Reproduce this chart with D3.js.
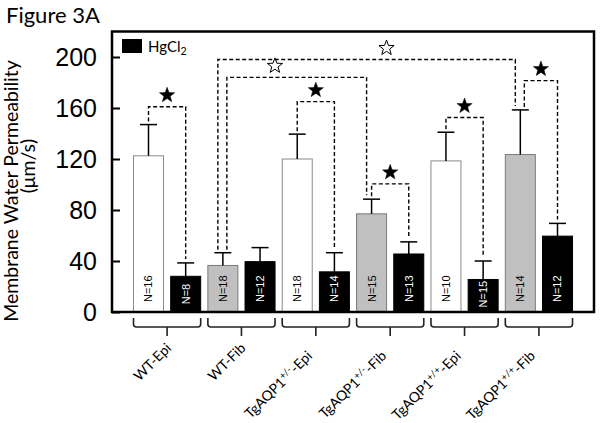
<!DOCTYPE html>
<html><head><meta charset="utf-8">
<script src="https://cdn.jsdelivr.net/npm/d3@7"></script>
<style>body{margin:0;background:#fff}</style>
</head><body><svg id="c" width="600" height="423"></svg>
<script>
// ---- data ----
const groupBase = ["WT","WT","TgAQP1","TgAQP1","TgAQP1","TgAQP1"];
const groupSup = ["","","+/-","+/-","+/+","+/+"];
const groupSuffix = ["-Epi","-Fib","-Epi","-Fib","-Epi","-Fib"];
const controlMean = [122.5, 36.5, 120, 77, 118.5, 123.5];
const controlSem = [24.5, 10, 19.5, 11.5, 22.5, 35];
const controlN = [16, 18, 18, 15, 10, 14];
const hgMean = [28, 39.5, 31.5, 45.5, 25.5, 59.5];
const hgSem = [10.5, 11, 15, 9.5, 14.5, 10];
const hgN = [8, 12, 14, 13, 15, 12];
const yTicks = [0, 40, 80, 120, 160, 200];
// significance comparisons (bar indices, bracket level in µm/s, star type)
const sigFrom = [0, 2, 2, 4, 6, 8, 10];
const sigTo = [1, 10, 6, 5, 7, 9, 11];
const sigLevel = [161, 198, 184, 165, 100.5, 152.5, 181.5];
const sigFilled = [true, false, false, true, true, true, true];

// ---- layout ----
const sigNudgeFrom = [0, -5, 4, 0, 0, 0, 4];
const sigNudgeTo = [0, -5, -5, 0, 0, 0, 0];
const starAt = [0.5, 0.567, 0.344, 0.5, 0.5, 0.5, 0.5];

const svg = d3.select("#c");
const L = 112, R = 594, T = 31.5, B = 312;

const bars = [];
groupBase.forEach((g, i) => {
  bars.push({key: "c" + i, mean: controlMean[i], sem: controlSem[i], n: controlN[i],
             type: (i % 2 === 0) ? "white" : "gray"});
  bars.push({key: "h" + i, mean: hgMean[i], sem: hgSem[i], n: hgN[i], type: "black"});
});

const x = d3.scaleBand().domain(bars.map(d => d.key)).range([L, R])
  .paddingInner(0.193).paddingOuter(0.578);
const y = d3.scaleLinear().domain([0, 220]).range([B, T]);
const cx = k => x(k) + x.bandwidth() / 2;

// title
svg.append("text").attr("x", 6).attr("y", 23).text("Figure 3A")
  .style("font-family", "Lato").style("font-size", "22px").attr("fill", "#000");

// y title
svg.append("text").attr("transform", "translate(18,191) rotate(-90)")
  .attr("text-anchor", "middle").text("Membrane Water Permeability")
  .style("font-family", "Lato").style("font-size", "19.5px");
svg.append("text").attr("transform", "translate(35,166) rotate(-90)")
  .attr("text-anchor", "middle").text("(μm/s)")
  .style("font-family", "Lato").style("font-size", "19.5px");

// bars
const fills = {white: "#ffffff", gray: "#c0c0c0", black: "#000000"};
const strokes = {white: "#8a8a8a", gray: "#7a7a7a", black: "#000000"};
svg.append("g").selectAll("rect").data(bars).join("rect")
  .attr("x", d => x(d.key)).attr("width", x.bandwidth())
  .attr("y", d => y(d.mean)).attr("height", d => y(0) - y(d.mean))
  .attr("fill", d => fills[d.type]).attr("stroke", d => strokes[d.type]).attr("stroke-width", 1);

// error bars
const eg = svg.append("g").attr("stroke", "#000").attr("stroke-width", 1.5);
bars.forEach(d => {
  const c = cx(d.key);
  eg.append("line").attr("x1", c).attr("x2", c).attr("y1", y(d.mean)).attr("y2", y(d.mean + d.sem));
  eg.append("line").attr("x1", c - 8.5).attr("x2", c + 8.5).attr("y1", y(d.mean + d.sem)).attr("y2", y(d.mean + d.sem));
});

// N labels (start near bottom, pushed down if bar is shorter than label)
svg.append("g").selectAll("text").data(bars).join("text")
  .attr("transform", d => {
    const s = Math.max(302, Math.min(309, y(d.mean) + 28));
    return `translate(${cx(d.key)},${s}) rotate(-90)`;
  })
  .attr("text-anchor", "start").attr("dy", "0.36em")
  .attr("fill", d => d.type === "black" ? "#fff" : "#000")
  .style("font-family", "Liberation Sans").style("font-size", "11px")
  .text(d => "N=" + d.n);

// significance brackets
function starPath(r1, r2) {
  const pts = [];
  for (let i = 0; i < 10; i++) {
    const a = -Math.PI / 2 + i * Math.PI / 5;
    const r = i % 2 === 0 ? r1 : r2;
    pts.push([r * Math.cos(a), r * Math.sin(a)]);
  }
  return "M" + pts.map(p => p.join(",")).join("L") + "Z";
}
const sg = svg.append("g");
sigFrom.forEach((a, i) => {
  const b = sigTo[i];
  const ba = bars[a], bb = bars[b];
  const x1 = cx(ba.key) + sigNudgeFrom[i], x2 = cx(bb.key) + sigNudgeTo[i];
  const yl = y(sigLevel[i]);
  const y1 = y(ba.mean + ba.sem) - 3, y2 = y(bb.mean + bb.sem) - 4;
  sg.append("path").attr("d", `M${x1},${y1}V${yl}H${x2}V${y2}`)
    .attr("fill", "none").attr("stroke", "#000").attr("stroke-width", 1.4)
    .attr("stroke-dasharray", "4,2.5");
  const sx = x1 + (x2 - x1) * starAt[i];
  sg.append("path").attr("d", starPath(8, 3.3))
    .attr("transform", `translate(${sx},${yl - 11.5})`)
    .attr("fill", sigFilled[i] ? "#000" : "#fff").attr("stroke", "#000").attr("stroke-width", sigFilled[i] ? 0.5 : 1);
});

// y axis (inward ticks)
const ya = svg.append("g").attr("transform", `translate(${L},0)`)
  .call(d3.axisLeft(y).tickValues(yTicks).tickSize(-8).tickPadding(15));
ya.select(".domain").remove();
ya.selectAll(".tick line").attr("stroke", "#000").attr("stroke-width", 2);
ya.selectAll(".tick text").style("font-family", "Liberation Sans").style("font-size", "25px").attr("fill", "#000");

// frame
svg.append("rect").attr("x", L).attr("y", T).attr("width", R - L).attr("height", B - T)
  .attr("fill", "none").attr("stroke", "#000").attr("stroke-width", 2.5);

// legend
svg.append("rect").attr("x", 122).attr("y", 39).attr("width", 20).attr("height", 14).attr("fill", "#000");
const lt = svg.append("text").attr("x", 148).attr("y", 52)
  .style("font-family", "Lato").style("font-size", "15px");
lt.append("tspan").text("HgCl");
lt.append("tspan").text("2").attr("dy", 3).style("font-size", "10.5px");

// group brackets + labels
const labelShift = [0, 0, 11, 11, 11, 11];
const gg = svg.append("g");
groupBase.forEach((g, i) => {
  const xa = x(bars[2 * i].key), xb = x(bars[2 * i + 1].key) + x.bandwidth();
  const m = (xa + xb) / 2;
  const yT = 318, yH = 327, yB = 336, r = 3;
  gg.append("path")
    .attr("d", `M${xa},${yT}V${yH - r}Q${xa},${yH} ${xa + r},${yH}H${xb - r}Q${xb},${yH} ${xb},${yH - r}V${yT}M${m},${yH}V${yB}`)
    .attr("fill", "none").attr("stroke", "#222").attr("stroke-width", 1.6);
  const sh = labelShift[i] * Math.SQRT1_2;
  const t = gg.append("text").attr("transform", `translate(${m + 5 - sh},${349 + sh}) rotate(-45)`)
    .attr("text-anchor", "end").style("font-family", "Lato").style("font-size", "14px");
  t.append("tspan").text(g);
  if (groupSup[i]) {
    t.append("tspan").text(groupSup[i]).attr("dy", -5).style("font-size", "9.5px");
    t.append("tspan").text(groupSuffix[i]).attr("dy", 5);
  } else {
    t.append("tspan").text(groupSuffix[i]);
  }
});
</script>
</body></html>
